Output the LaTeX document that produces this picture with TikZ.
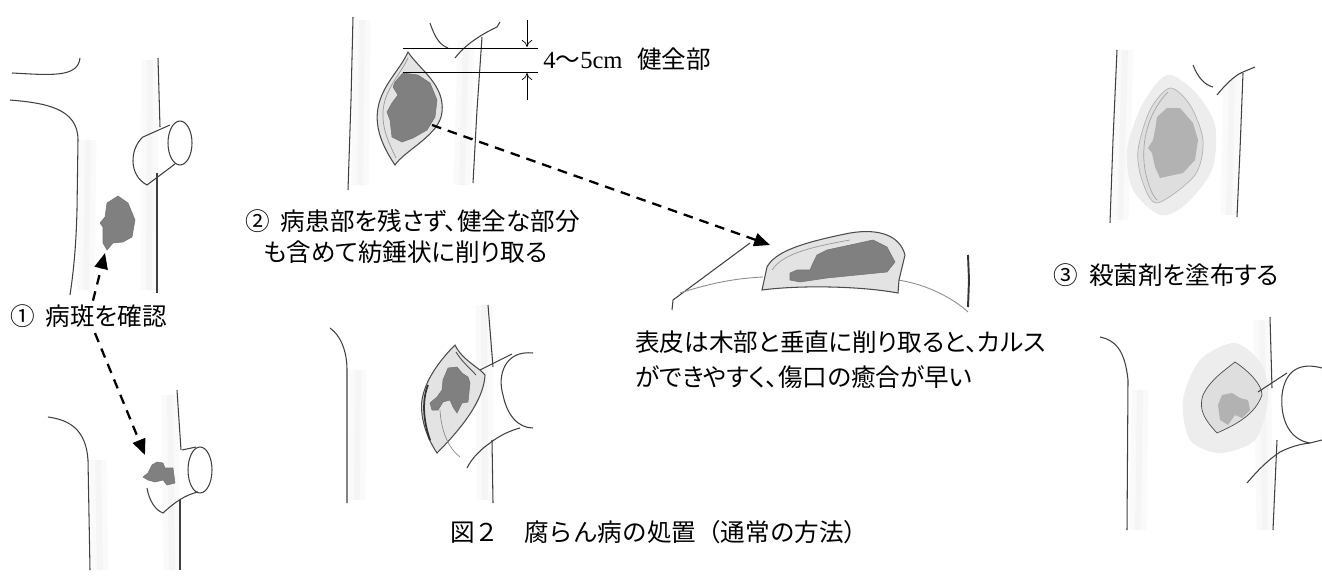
\documentclass[tikz,border=0pt]{standalone}
\usepackage{fontspec}
\setmainfont{Liberation Serif}
\newfontfamily\jp[RawFeature=+palt]{Noto Sans CJK JP}
\newfontfamily\jpfull{Noto Sans CJK JP}
\usetikzlibrary{arrows.meta}
\tikzset{bark/.style={draw=black!75, line width=0.6pt},
 band/.style={draw=black!4, line width=0.12cm, preaction={draw=black!2, line width=0.34cm}},
 lesion/.style={fill=black!50, draw=black!55, line width=0.3pt},
 wound/.style={fill=black!11, draw=black!70, line width=0.6pt},
 halo/.style={fill=black!7},
 coat/.style={fill=black!13, draw=black!30, line width=0.4pt},
 dimline/.style={draw=black, line width=0.5pt},
 dimarrow/.style={draw=black, line width=0.4pt, -{To[length=4pt,width=6pt]}},
 pointer/.style={draw=black, line width=1.3pt, dash pattern=on 5.5pt off 4pt,
   -{Triangle[length=9pt,width=7.5pt]}},
 label/.style={font=\jp\fontsize{14}{17}\selectfont, inner sep=0pt},
 }

\begin{document}
\begin{tikzpicture}[x=0.02cm, y=-0.02cm]
    \useasboundingbox (0,0) rectangle (1322,578);

    % (1) lesion found
    \draw[band] (88,140) -- (86,290);
    \draw[band] (150,60) -- (149,290);
    \draw[bark] (12,73) .. controls (50,75) and (78,78) .. (80,58);
    \draw[bark] (10,100) .. controls (45,103) and (78,108) .. (78,140) -- (77,210) .. controls (76,250) and (73,275) .. (70,295);
    \draw[bark] (158,58) -- (160,127);
    \draw[bark] (157,173) -- (157,293);
    \draw[bark] (143,137) -- (170,125);
    \draw[bark] (143,137) .. controls (130,148) and (128,175) .. (147,185) -- (175,164);
    \draw[bark] (180,143) ellipse [x radius=0.24cm, y radius=0.44cm];
    \draw[lesion] (107,203) -- (118,196) -- (128,203) -- (135,220) -- (132,237) -- (123,242) -- (113,243) -- (107,250)
        -- (103,243) -- (103,227) -- (100,223) -- (105,217) -- cycle;
    \coordinate (spot1) at (105,253);

    \draw[band] (98,460) -- (100,570);
    \draw[band] (170,395) -- (172,570);
    \draw[bark] (48,417) .. controls (70,420) and (86,430) .. (88,460) -- (90,570);
    \draw[bark] (177,390) -- (181,450);
    \draw[bark] (180,500) -- (180,570);
    \draw[bark] (182,450) -- (196,447);
    \draw[bark] (147,488) .. controls (149,500) and (155,510) .. (163,513) .. controls (175,502) and (185,495) .. (198,492);
    \draw[bark] (200,470) ellipse [x radius=0.24cm, y radius=0.46cm];
    \draw[lesion] (152,465) -- (157,462) -- (163,463) -- (165,468) -- (173,468) -- (175,483) -- (167,485) -- (163,480)
        -- (155,482) -- (148,480) -- (143,477) -- (148,473) -- cycle;
    \coordinate (spot1b) at (145,455);

    \node[label, anchor=west] (lbl1) at (10,316) {①\hspace{0.45em}病斑を確認};
    \draw[pointer] ([xshift=1.66cm, yshift=2pt]lbl1.north west) -- (spot1);
    \draw[pointer] ([xshift=1.7cm, yshift=-3pt]lbl1.south west) -- (spot1b);

    % (2) cut out
    \draw[band] (362,20) -- (360,185);
    \draw[band] (466,40) -- (462,185);
    \draw[bark] (353,17) -- (351,100) -- (348,190);
    \draw[bark] (482,37) -- (477,110) -- (473,183);
    \draw[bark] (430,23) .. controls (435,38) and (440,45) .. (448,48);
    \draw[bark] (455,58) .. controls (465,45) and (480,35) .. (497,27) -- (500,22);
    \draw[wound] (408,52) .. controls (420,70) and (445,85) .. (442,112) .. controls (440,135) and (405,150) .. (395,165)
        .. controls (385,150) and (374,130) .. (378,108) .. controls (382,85) and (400,70) .. (408,52) -- cycle;
    \draw[black!40, line width=0.4pt] (408,58) .. controls (400,75) and (384,90) .. (383,112) .. controls (382,130) and (390,145) .. (396,158);
    \draw[lesion] (395,82) -- (403,73) -- (418,75) -- (430,83) -- (437,100) -- (435,117) -- (427,130) -- (413,138)
        -- (402,142) -- (392,137) -- (390,120) -- (387,112) -- (392,103) -- (398,95) -- (393,87) -- cycle;
    \coordinate (cut2) at (432,125);

    \draw[dimline] (403,48) -- (538,48);
    \draw[dimline] (403,72) -- (538,72);
    \coordinate (dimtop) at (527,20);
    \coordinate (dimbot) at (527,100);
    \draw[dimarrow] (dimtop) -- (527,47);
    \draw[dimarrow] (dimbot) -- (527,73);
    \node[label, anchor=west] (dimtext) at (543,59) {\rmfamily 4{\jpfull 〜}5cm\hspace{0.6em}{\jp 健全部}};

    \node[label, anchor=west] (lbl2) at (245,221) {②\hspace{0.45em}病患部を残さず、健全な部分};
    \node[label, anchor=west] (lbl2b) at (263,252) {も含めて紡錘状に削り取る};

    \draw[band] (358,370) -- (357,500);
    \draw[band] (484,305) -- (485,500);
    \draw[bark] (330,328) .. controls (340,335) and (347,350) .. (347,370) -- (347,503);
    \draw[bark] (488,305) -- (493,367);
    \draw[bark] (492,440) -- (493,503);
    \draw[bark] (470,375) -- (512,354);
    \draw[bark] (533,353) .. controls (505,350) and (497,375) .. (503,395) .. controls (507,415) and (518,428) .. (533,428);
    \draw[bark] (467,468) .. controls (472,458) and (480,450) .. (490,443) .. controls (500,435) and (512,430) .. (520,428);
    \draw[wound] (455,345) .. controls (462,360) and (480,368) .. (485,375) .. controls (484,395) and (470,420) .. (437,453)
        .. controls (425,435) and (420,415) .. (422,400) .. controls (425,380) and (440,360) .. (455,345) -- cycle;
    \draw[black!70, line width=0.5pt] (456,352) .. controls (462,362) and (470,368) .. (476,375);
    \draw[black!80, line width=1pt] (428,385) .. controls (422,400) and (423,420) .. (430,440);
    \draw[lesion] (448,368) -- (457,367) -- (462,373) -- (468,377) -- (470,383) -- (468,402) -- (462,403) -- (457,413)
        -- (453,407) -- (450,400) -- (443,402) -- (438,410) -- (432,410) -- (430,403) -- (437,397) -- (442,390)
        -- (443,380) -- cycle;
    \draw[black!45, line width=0.4pt] (440,410) .. controls (441,430) and (448,448) .. (460,457);

    % cross-section
    \draw[bark] (672,310) -- (673,300) -- (750,243);
    \draw[black!45, line width=0.5pt] (680,293) .. controls (720,280) and (745,278) .. (763,277);
    \draw[black!45, line width=0.5pt] (898,280) .. controls (930,285) and (955,300) .. (968,312);
    \draw[wound] (762,290) -- (767,267) .. controls (775,252) and (800,243) .. (850,233) .. controls (880,228) and (900,236) .. (905,255)
        -- (899,280) -- (898,293) .. controls (860,286) and (800,285) .. (762,290) -- cycle;
    \draw[black!40, line width=0.4pt] (772,270) .. controls (782,255) and (805,248) .. (850,240);
    \draw[lesion] (790,273) -- (797,270) -- (810,270) -- (813,263) -- (817,255) -- (827,250) -- (873,240) -- (887,247)
        -- (895,262) -- (887,272) -- (857,275) -- (827,278) -- (800,282) -- (790,280) -- cycle;
    \draw[draw=black!80, line width=1.1pt] (968,255) -- (969,280) -- (968,307);
    \coordinate (cut2x) at (770,245);
    \draw[pointer] (cut2) -- (cut2x);

    \node[label, anchor=west] (lbl3x) at (635,342) {表皮は木部と垂直に削り取ると、カルス};
    \node[label, anchor=west] (lbl3y) at (635,377) {ができやすく、傷口の癒合が早い};

    % (3) fungicide
    \draw[band] (1125,50) -- (1120,220);
    \draw[band] (1232,80) -- (1229,215);
    \draw[bark] (1117,50) -- (1113,140) -- (1110,223);
    \draw[bark] (1243,73) -- (1240,150) -- (1237,217);
    \draw[bark] (1193,65) .. controls (1198,78) and (1205,85) .. (1213,87);
    \draw[bark] (1217,95) .. controls (1225,85) and (1235,75) .. (1243,72) -- (1255,67);
    \fill[halo] plot[smooth cycle] coordinates {(1167,75) (1195,92) (1215,125) (1212,170) (1185,205) (1160,215) (1133,190) (1127,150) (1142,105)};
    \draw[coat] plot[smooth cycle] coordinates {(1170,88) (1190,105) (1203,140) (1195,175) (1157,203) (1142,180) (1138,150) (1150,110)};
    \draw[black!35, line width=0.4pt] (1168,92) .. controls (1150,110) and (1140,140) .. (1145,170) .. controls (1148,185) and (1152,195) .. (1157,200);
    \fill[black!30] (1157,117) -- (1167,108) -- (1180,108) -- (1193,123) -- (1198,140) -- (1195,160) -- (1183,173)
        -- (1160,178) -- (1155,167) -- (1152,153) -- (1148,148) -- (1153,140) -- (1155,130) -- cycle;

    \node[label, anchor=west] (lbl3) at (1053,275) {③\hspace{0.45em}殺菌剤を塗布する};

    \draw[band] (1140,390) -- (1138,530);
    \draw[band] (1262,320) -- (1265,530);
    \draw[bark] (1100,337) .. controls (1115,340) and (1125,350) .. (1128,380) -- (1127,530);
    \draw[bark] (1270,317) -- (1272,388);
    \draw[bark] (1277,440) -- (1273,530);
    \fill[halo] plot[smooth cycle] coordinates {(1235,343) (1262,365) (1268,400) (1255,440) (1220,453) (1190,440) (1183,400) (1200,360)};
    \draw[coat, draw=black!70] (1235,362) .. controls (1250,372) and (1262,385) .. (1262,395) .. controls (1255,415) and (1235,425) .. (1217,433)
        .. controls (1205,420) and (1198,410) .. (1203,395) .. controls (1210,380) and (1225,370) .. (1235,362) -- cycle;
    \fill[black!30] (1222,395) -- (1232,393) -- (1240,398) -- (1248,400) -- (1250,410) -- (1242,418) -- (1235,415)
        -- (1228,425) -- (1220,420) -- (1218,405) -- cycle;
    \draw[bark] (1258,392) -- (1287,373);
    \draw[bark] (1322,368) .. controls (1300,362) and (1285,370) .. (1282,395) .. controls (1280,420) and (1290,440) .. (1310,443) -- (1322,440);
    \draw[bark] (1247,483) .. controls (1258,470) and (1268,460) .. (1280,452) .. controls (1290,447) and (1300,444) .. (1310,443);

    \node[label, anchor=west] (caption) at (450,532) {\jpfull 図２　腐らん病の処置（通常の方法）};
\end{tikzpicture}
\end{document}
